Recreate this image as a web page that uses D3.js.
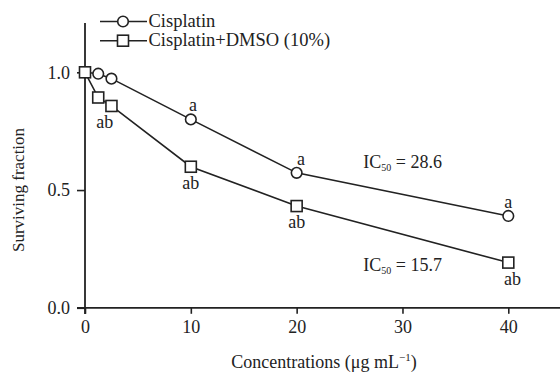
<!DOCTYPE html>
<html><head><meta charset="utf-8">
<script src="https://cdn.jsdelivr.net/npm/d3@7"></script>
<style>body{margin:0;background:#fff}svg{display:block}</style>
</head><body><svg id="c" width="560" height="375"></svg>
<script>
const concentrations = [0, 1.25, 2.5, 10, 20, 40];
const cisplatin = [1.0, 0.994, 0.973, 0.800, 0.573, 0.390];
const cisplatinDMSO = [1.0, 0.893, 0.857, 0.599, 0.432, 0.192];
const seriesNames = ["Cisplatin", "Cisplatin+DMSO (10%)"];
const xTicks = [0, 10, 20, 30, 40];
const yTicks = [0.0, 0.5, 1.0];
const labelsA = [{x:10.2, y:0.800, t:"a"}, {x:20.4, y:0.573, t:"a"}, {x:40, y:0.390, t:"a"}];
const labelsAB = [{x:1.875, y:0.857, t:"ab"}, {x:10, y:0.599, t:"ab"}, {x:20, y:0.432, t:"ab"}, {x:40.4, y:0.192, t:"ab"}];
const icLabels = [{x:26.3, y:0.594, v:"28.6"}, {x:26.3, y:0.158, v:"15.7"}];

const FONT = "'Liberation Serif', 'DejaVu Serif', 'Times New Roman', serif";
const svg = d3.select("#c");
const x = d3.scaleLinear().domain([0, 40]).range([85, 508.3]);
const y = d3.scaleLinear().domain([0, 1]).range([307.8, 72.3]);
const col = "#222";

const xAxis = svg.append("g").attr("transform", "translate(0,307.8)")
  .call(d3.axisBottom(x).tickValues(xTicks).tickFormat(d3.format("d")).tickSizeOuter(0).tickSize(6).tickPadding(6));
const yAxis = svg.append("g").attr("transform", "translate(85,0)")
  .call(d3.axisLeft(y).tickValues(yTicks).tickFormat(d3.format(".1f")).tickSizeOuter(0).tickSize(8).tickPadding(7));
[xAxis, yAxis].forEach(g => {
  g.attr("font-family", null);
  g.select(".domain").remove();
  g.selectAll(".tick line").attr("stroke", col).attr("stroke-width", 1.6);
  g.selectAll(".tick text").style("font-size", "18px").attr("fill", col);
});
svg.append("line").attr("x1", 77).attr("x2", 560).attr("y1", 307.8).attr("y2", 307.8).attr("stroke", col).attr("stroke-width", 1.8);
svg.append("line").attr("x1", 85).attr("x2", 85).attr("y1", 23).attr("y2", 314).attr("stroke", col).attr("stroke-width", 1.8);

const line = d3.line().x(d => x(d[0])).y(d => y(d[1]));
const d1 = concentrations.map((c, i) => [c, cisplatin[i]]);
const d2 = concentrations.map((c, i) => [c, cisplatinDMSO[i]]);
svg.append("path").attr("d", line(d1)).attr("fill", "none").attr("stroke", col).attr("stroke-width", 1.6);
svg.append("path").attr("d", line(d2)).attr("fill", "none").attr("stroke", col).attr("stroke-width", 1.6);

svg.selectAll("circle.m").data(d1).join("circle").attr("class", "m")
  .attr("cx", d => x(d[0])).attr("cy", d => y(d[1])).attr("r", 5.3)
  .attr("fill", "#fff").attr("stroke", col).attr("stroke-width", 1.6);
svg.selectAll("rect.m").data(d2).join("rect").attr("class", "m")
  .attr("x", d => x(d[0]) - 5.5).attr("y", d => y(d[1]) - 5.5).attr("width", 11).attr("height", 11)
  .attr("fill", "#fff").attr("stroke", col).attr("stroke-width", 1.6);

svg.selectAll("text.a").data(labelsA).join("text").attr("class", "a")
  .attr("x", d => x(d.x)).attr("y", d => y(d.y) - 8)
  .attr("text-anchor", "middle").style("font-size", "18px").text(d => d.t);
svg.selectAll("text.ab").data(labelsAB).join("text").attr("class", "ab")
  .attr("x", d => x(d.x)).attr("y", d => y(d.y) + 22)
  .attr("text-anchor", "middle").style("font-size", "18px").text(d => d.t);

icLabels.forEach(l => {
  const t = svg.append("text").attr("x", x(l.x)).attr("y", y(l.y)).style("font-size", "18px");
  t.append("tspan").text("IC");
  t.append("tspan").attr("dy", 3).style("font-size", "10px").text("50");
  t.append("tspan").attr("dy", -3).text(" = " + l.v);
});

const leg = svg.append("g");
seriesNames.forEach((n, i) => {
  const yy = 21.5 + i * 19.2;
  leg.append("line").attr("x1", 100).attr("x2", 147).attr("y1", yy).attr("y2", yy).attr("stroke", col).attr("stroke-width", 1.6);
  if (i === 0) leg.append("circle").attr("cx", 123).attr("cy", yy).attr("r", 5.3).attr("fill", "#fff").attr("stroke", col).attr("stroke-width", 1.6);
  else leg.append("rect").attr("x", 117.5).attr("y", yy - 5.5).attr("width", 11).attr("height", 11).attr("fill", "#fff").attr("stroke", col).attr("stroke-width", 1.6);
  leg.append("text").attr("x", 148.5).attr("y", yy + 5.5).style("font-size", "18.5px").text(n);
});

svg.append("text").attr("transform", "translate(24,190) rotate(-90)").attr("text-anchor", "middle")
  .style("font-size", "17px").text("Surviving fraction");
const xt = svg.append("text").attr("x", 324).attr("y", 368).attr("text-anchor", "middle").style("font-size", "18px");
xt.append("tspan").text("Concentrations (μg mL");
xt.append("tspan").attr("dy", -7).style("font-size", "11px").text("−1");
xt.append("tspan").attr("dy", 7).text(")");

svg.selectAll("text").style("font-family", FONT).style("fill", col);
</script></body></html>
